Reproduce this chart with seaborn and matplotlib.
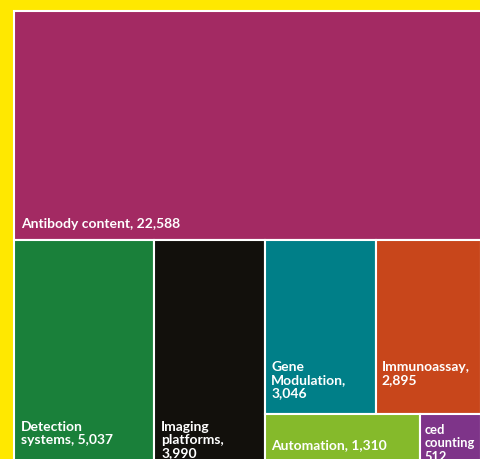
import matplotlib
matplotlib.use("Agg")
import matplotlib.pyplot as plt
import seaborn as sns
import numpy as np

# ---- data -------------------------------------------------------------
categories = ["Antibody content", "Detection systems", "Imaging platforms",
              "Gene Modulation", "Immunoassay", "Automation", "ced counting"]
values = [22588, 5037, 3990, 3046, 2895, 1310, 512]
labels = ["Antibody content, 22,588", "Detection\nsystems, 5,037",
          "Imaging\nplatforms,\n3,990", "Gene\nModulation,\n3,046",
          "Immunoassay,\n2,895", "Automation, 1,310", "ced\ncounting\n512"]

# ---- style ------------------------------------------------------------
colors = ["#A32A63", "#1A803A", "#12100C", "#007F88", "#C8461B",
          "#85BA2B", "#7E3489"]
YELLOW = "#FFE800"
label_rise = [22, 46, 46, 53, 53, 28, 43]   # px from rect bottom to text top
label_dx = [7, 7, 7, 6, 6, 6, 4]            # px from rect left to text
label_size = [10, 10, 10, 10, 10, 10, 9.3]

sns.set_theme(style="white")
plt.rcParams["font.family"] = ["Lato", "DejaVu Sans"]

# ---- treemap layout (computed from values) ----------------------------
v = dict(zip(categories, values))
TOP_RATIO = 1.005           # top-row height relative to bottom row
h_top, h_bot = TOP_RATIO, 1.0
rects = {}
ab = categories[0]
rects[ab] = (0.0, 0.0, v[ab] / h_top, h_top)
x = 0.0
y0 = h_top
for c in categories[1:3]:
    w = v[c] / h_bot
    rects[c] = (x, y0, w, h_bot)
    x += w
block = categories[3:]
bw = sum(v[c] for c in block) / h_bot
top_items, bot_items = categories[3:5], categories[5:7]
th = sum(v[c] for c in top_items) / bw
xx = x
for c in top_items:
    w = v[c] / th
    rects[c] = (xx, y0, w, th)
    xx += w
bh = sum(v[c] for c in bot_items) / bw
xx = x
for c in bot_items:
    w = v[c] / bh
    rects[c] = (xx, y0 + th, w, bh)
    xx += w
total_w = x + bw

# ---- figure -----------------------------------------------------------
W, H = 480, 459
fig = plt.figure(figsize=(W / 100, H / 100), dpi=100, facecolor=YELLOW)
ax = fig.add_axes([0, 0, 1, 1])
ax.set_facecolor(YELLOW)
x0_px, y0_px, right_px, row_px = 14, 11, 481, 227.5
sx = (right_px - x0_px) / total_w
sy = row_px / h_bot
ax.set_xlim(-x0_px / sx, (W - x0_px) / sx)
ax.set_ylim((H - y0_px) / sy, -y0_px / sy)
ax.axis("off")

xs = [rects[c][0] for c in categories]
ys = [rects[c][1] for c in categories]
ws = [rects[c][2] for c in categories]
hs = [rects[c][3] for c in categories]
ax.bar(xs, hs, width=ws, bottom=ys, align="edge", color=colors,
       edgecolor="white", linewidth=1.5)

for c, lab, rise, dx, fs in zip(categories, labels, label_rise, label_dx,
                                label_size):
    rx, ry, rw, rh = rects[c]
    ax.annotate(lab, xy=(rx, ry + rh), xycoords="data",
                xytext=(dx, rise), textcoords="offset pixels",
                ha="left", va="top", color="white", fontsize=fs,
                fontweight="bold", linespacing=1.12, annotation_clip=False)

fig.savefig("out.png", dpi=100, facecolor=YELLOW)
